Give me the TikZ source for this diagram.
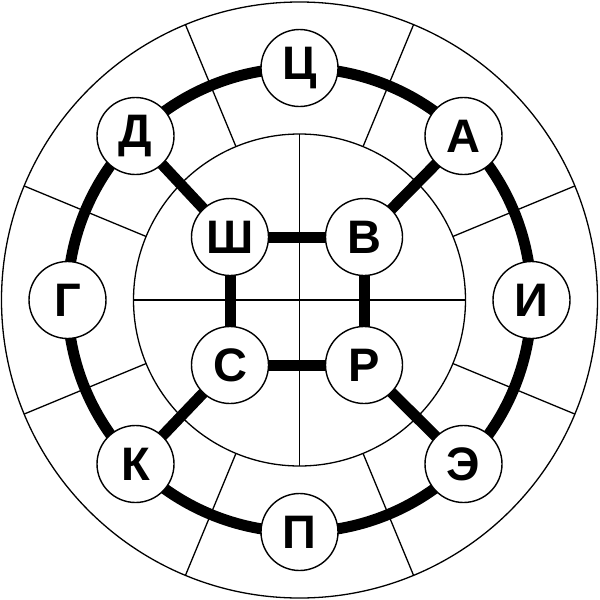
\documentclass[tikz,border=0pt]{standalone}
\usepackage{fontspec}
\setmainfont{Liberation Sans}
\usetikzlibrary{calc,backgrounds}
\begin{document}
\begin{tikzpicture}[x=1pt,y=-1pt,
  thinline/.style={line width=1.3pt,black},
  thickline/.style={line width=11pt,black},
  letter/.style={circle,draw=black,line width=1.4pt,fill=white,minimum size=77pt,inner sep=0pt,
    font=\fontsize{47}{47}\selectfont\bfseries}]
\useasboundingbox (0,0) rectangle (600,600);
\coordinate (O) at (299.5,300);
% rings
\draw[thinline] (O) circle (298);
\draw[thinline] (O) circle (166);
\foreach \a in {22.5,67.5,...,337.5}
  \draw[thinline] ($(O)+(\a:166)$) -- ($(O)+(\a:298)$);
\draw[thinline] ($(O)+(-166,0)$) -- ($(O)+(166,0)$);
\draw[thinline] ($(O)+(0,-166)$) -- ($(O)+(0,166)$);
% nodes
\node[letter] (c) at ($(O)+(0,-232)$) {Ц};
\node[letter] (a) at ($(O)+(164,-164)$) {А};
\node[letter] (i) at ($(O)+(232,0)$) {И};
\node[letter] (e) at ($(O)+(164,164)$) {Э};
\node[letter] (p) at ($(O)+(0,232)$) {П};
\node[letter] (k) at ($(O)+(-164,164)$) {К};
\node[letter] (g) at ($(O)+(-232,0)$) {Г};
\node[letter] (d) at ($(O)+(-164,-164)$) {Д};
\node[letter] (sh) at (230,237) {Ш};
\node[letter] (v) at (364,237) {В};
\node[letter] (s) at (230,365) {С};
\node[letter] (r) at (364,365) {Р};
% connectors behind nodes
\begin{scope}[on background layer]
  \draw[thickline] (O) circle (232);
  \draw[thickline] (d.center) -- (sh.center);
  \draw[thickline] (a.center) -- (v.center);
  \draw[thickline] (k.center) -- (s.center);
  \draw[thickline] (e.center) -- (r.center);
  \draw[thickline] (sh.center) -- (v.center) -- (r.center) -- (s.center) -- cycle;
\end{scope}
\end{tikzpicture}
\end{document}
